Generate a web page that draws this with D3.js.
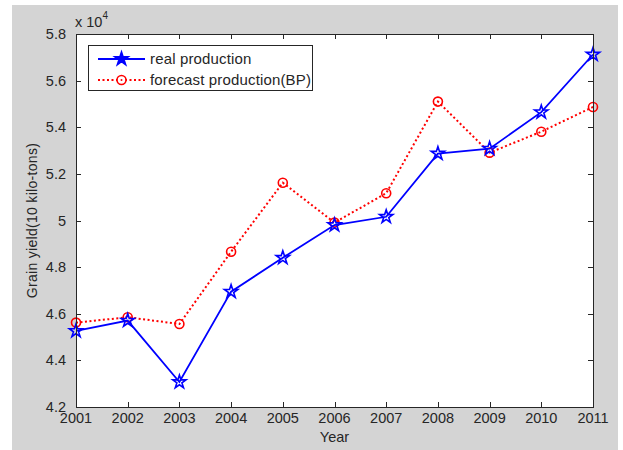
<!DOCTYPE html>
<html>
<head>
<meta charset="utf-8">
<script src="https://cdn.jsdelivr.net/npm/d3@7"></script>
<style>
  html, body { margin: 0; padding: 0; background: #ffffff; }
  svg { display: block; }
  text { font-family: "Liberation Sans", Arial, sans-serif; fill: #262626; }
</style>
</head>
<body>
<svg id="chart" width="623" height="450"></svg>
<script>
// Grain production data (units of 10 kilo-tons)
const years = [2001, 2002, 2003, 2004, 2005, 2006, 2007, 2008, 2009, 2010, 2011];
const realProduction = [45264, 45706, 43070, 46947, 48402, 49804, 50160, 52871, 53082, 54648, 57121];
const forecastBP = [45620, 45850, 45560, 48660, 51620, 49910, 51170, 55100, 52910, 53810, 54870];
const yTicks = [42000, 44000, 46000, 48000, 50000, 52000, 54000, 56000, 58000];
const seriesNames = ["real production", "forecast production(BP)"];

const svg = d3.select("#chart");
const plot = { left: 76, top: 34, right: 593, bottom: 407 };

// figure background
svg.append("rect").attr("x", 12).attr("y", 5).attr("width", 606).attr("height", 445).attr("fill", "#d4d4d4");
svg.append("rect").attr("x", plot.left).attr("y", plot.top)
  .attr("width", plot.right - plot.left).attr("height", plot.bottom - plot.top).attr("fill", "#ffffff");

const x = d3.scaleLinear().domain([2001, 2011]).range([plot.left, plot.right]);
const y = d3.scaleLinear().domain([42000, 58000]).range([plot.bottom, plot.top]);

const tickLen = 5;
const fmtY = v => d3.format("~g")(+(v / 10000).toFixed(1));

// inward ticks on all four sides
const axisG = svg.append("g").attr("stroke", "#262626").attr("stroke-width", 1);
years.forEach(t => {
  const px = Math.round(x(t)) + 0.5;
  axisG.append("line").attr("x1", px).attr("x2", px).attr("y1", plot.bottom).attr("y2", plot.bottom - tickLen);
  axisG.append("line").attr("x1", px).attr("x2", px).attr("y1", plot.top).attr("y2", plot.top + tickLen);
});
yTicks.forEach(t => {
  const py = Math.round(y(t)) + 0.5;
  axisG.append("line").attr("x1", plot.left).attr("x2", plot.left + tickLen).attr("y1", py).attr("y2", py);
  axisG.append("line").attr("x1", plot.right).attr("x2", plot.right - tickLen).attr("y1", py).attr("y2", py);
});

// tick labels
svg.append("g").selectAll("text").data(years).join("text")
  .attr("x", d => x(d)).attr("y", plot.bottom + 16)
  .attr("text-anchor", "middle").attr("font-size", "14.5px").text(d => d);
svg.append("g").selectAll("text").data(yTicks).join("text")
  .attr("x", plot.left - 10).attr("y", d => y(d) + 5)
  .attr("text-anchor", "end").attr("font-size", "14.5px").text(fmtY);

// exponent label
const expo = svg.append("text").attr("x", plot.left - 1).attr("y", 27).attr("font-size", "14.5px");
expo.append("tspan").text("x 10");
expo.append("tspan").attr("font-size", "10px").attr("dy", -8).text("4");

// axis titles
svg.append("text").attr("x", (plot.left + plot.right) / 2).attr("y", 442)
  .attr("text-anchor", "middle").attr("font-size", "14.5px").text("Year");
svg.append("text").attr("transform", `translate(37,${(plot.top + plot.bottom) / 2}) rotate(-90)`)
  .attr("text-anchor", "middle").attr("font-size", "14px").attr("letter-spacing", "0.3px")
  .text("Grain yield(10 kilo-tons)");

// pentagram marker
const star = d3.symbol().type(d3.symbolStar).size(55);

const line = d3.line().x(d => x(d[0])).y(d => y(d[1]));
const realPts = years.map((yr, i) => [yr, realProduction[i]]);
const fcPts = years.map((yr, i) => [yr, forecastBP[i]]);

// forecast series (red dotted, circles)
svg.append("path").datum(fcPts).attr("d", line)
  .attr("fill", "none").attr("stroke", "#ff0000").attr("stroke-width", 2).attr("stroke-dasharray", "2,2.5");
svg.append("g").selectAll("circle").data(fcPts).join("circle")
  .attr("cx", d => x(d[0])).attr("cy", d => y(d[1])).attr("r", 4.5)
  .attr("fill", "none").attr("stroke", "#ff0000").attr("stroke-width", 1.6);

// real series (blue solid, stars)
svg.append("path").datum(realPts).attr("d", line)
  .attr("fill", "none").attr("stroke", "#0000ff").attr("stroke-width", 1.8);
svg.append("g").selectAll("path").data(realPts).join("path")
  .attr("transform", d => `translate(${x(d[0])},${y(d[1])})`).attr("d", star)
  .attr("fill", "none").attr("stroke", "#0000ff").attr("stroke-width", 1.6);

// plot frame
svg.append("rect").attr("x", plot.left + 0.5).attr("y", plot.top + 0.5)
  .attr("width", plot.right - plot.left).attr("height", plot.bottom - plot.top)
  .attr("fill", "none").attr("stroke", "#262626").attr("stroke-width", 1);

// legend
const lg = svg.append("g");
lg.append("rect").attr("x", 88.5).attr("y", 45.5).attr("width", 224).attr("height", 45)
  .attr("fill", "#ffffff").attr("stroke", "#262626").attr("stroke-width", 1);
const rows = [59, 80];
lg.append("line").attr("x1", 98).attr("x2", 145).attr("y1", rows[0]).attr("y2", rows[0])
  .attr("stroke", "#0000ff").attr("stroke-width", 1.8);
lg.append("path").attr("transform", `translate(121.5,${rows[0]})`).attr("d", star)
  .attr("fill", "#0000ff").attr("stroke", "#0000ff").attr("stroke-width", 1.6);
lg.append("line").attr("x1", 98).attr("x2", 145).attr("y1", rows[1]).attr("y2", rows[1])
  .attr("stroke", "#ff0000").attr("stroke-width", 2).attr("stroke-dasharray", "2,2.5");
lg.append("circle").attr("cx", 121.5).attr("cy", rows[1]).attr("r", 4.5)
  .attr("fill", "#ffffff").attr("stroke", "#ff0000").attr("stroke-width", 1.6);
lg.append("circle").attr("cx", 121.5).attr("cy", rows[1]).attr("r", 1)
  .attr("fill", "#ff0000");
seriesNames.forEach((n, i) => {
  lg.append("text").attr("x", 150).attr("y", rows[i] + 5).attr("font-size", "15px")
    .attr("letter-spacing", "0.15px").text(n);
});
</script>
</body>
</html>
